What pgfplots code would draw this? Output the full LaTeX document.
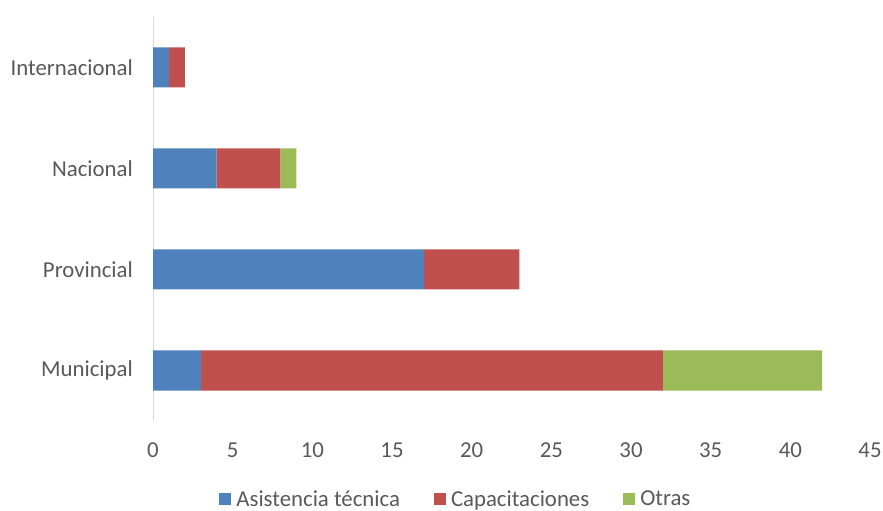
\documentclass[border=0pt]{standalone}
\usepackage{fontspec}
\setmainfont{Carlito}
\usepackage{pgfplots}
\pgfplotsset{compat=1.18}
\definecolor{cblue}{HTML}{4F81BD}
\definecolor{cred}{HTML}{C0504D}
\definecolor{cgreen}{HTML}{9BBB59}
\definecolor{ctext}{HTML}{595959}
\definecolor{cline}{HTML}{D9D9D9}
\begin{document}
\begin{tikzpicture}
\useasboundingbox (0,0) rectangle (883bp,511bp);
\begin{axis}[
  at={(153bp,90bp)}, anchor=south west,
  scale only axis, width=717bp, height=404bp,
  xbar stacked, bar width=40bp,
  xmin=0, xmax=45, ymin=-0.5, ymax=3.5,
  xtick={0,5,...,45},
  ytick={0,1,2,3},
  yticklabels={Municipal,Provincial,Nacional,Internacional},
  axis lines*=left,
  x axis line style={draw=none},
  y axis line style={draw=cline, line width=1bp},
  major tick length=0pt,
  /pgf/number format/assume math mode=true,
  tick label style={font=\fontsize{22.8bp}{26bp}\selectfont, text=ctext, inner sep=0pt},
  yticklabel style={anchor=east},
  xticklabel style={anchor=north},
  yticklabel shift=20bp,
  xticklabel shift=22bp,
  legend columns=3,
  legend style={at={(0.421,-0.192)}, anchor=center, draw=none, fill=none,
    font=\fontsize{22.8bp}{26bp}\selectfont, text=ctext,
    nodes={inner sep=0pt, text depth=0pt},
    /tikz/every odd column/.append style={column sep=5bp},
    /tikz/every even column/.append style={column sep=34bp}},
  legend image code/.code={\fill[#1] (0bp,-6bp) rectangle (12bp,6bp);},
  clip=false,
]
\addplot[fill=cblue, draw=none] coordinates {(3,0) (17,1) (4,2) (1,3)};
\addplot[fill=cred, draw=none] coordinates {(29,0) (6,1) (4,2) (1,3)};
\addplot[fill=cgreen, draw=none] coordinates {(10,0) (0,1) (1,2) (0,3)};
\legend{Asistencia técnica,Capacitaciones,Otras}
\end{axis}
\end{tikzpicture}
\end{document}
